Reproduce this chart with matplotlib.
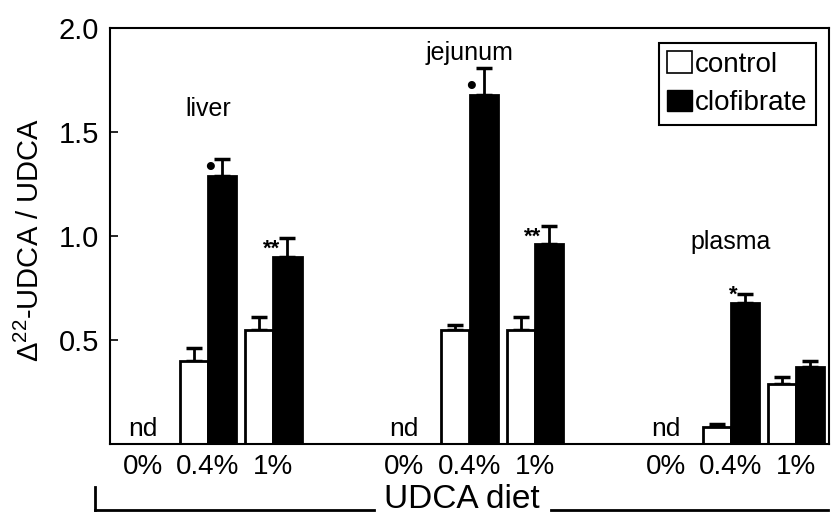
import numpy as np
import matplotlib
matplotlib.use("Agg")
import matplotlib.pyplot as plt
from matplotlib.lines import Line2D
from matplotlib.patches import Patch

plt.rcParams['font.family'] = ['Liberation Sans', 'DejaVu Sans']
plt.rcParams['mathtext.fontset'] = 'custom'
plt.rcParams['mathtext.rm'] = 'Liberation Sans'

# data
tissues = ["liver", "jejunum", "plasma"]
doses = ["0%", "0.4%", "1%"]
control = [0.0, 0.40, 0.55, 0.0, 0.55, 0.55, 0.0, 0.08, 0.29]
control_err = [0.0, 0.06, 0.06, 0.0, 0.02, 0.06, 0.0, 0.015, 0.03]
clofibrate = [0.0, 1.29, 0.90, 0.0, 1.68, 0.96, 0.0, 0.68, 0.37]
clofibrate_err = [0.0, 0.08, 0.09, 0.0, 0.13, 0.09, 0.0, 0.04, 0.03]
marks = ["", "\u2022", "**", "", "\u2022", "**", "", "*", ""]
nd = [True, False, False, True, False, False, True, False, False]
tissue_label_y = [1.61, 1.88, 0.97]

pos = np.array([0, 1, 2, 4, 5, 6, 8, 9, 10], dtype=float)
w = 0.43

fig = plt.figure(figsize=(8.34, 5.25), dpi=100)
ax = fig.add_axes([110 / 834, 81 / 525, 719 / 834, 416 / 525])

drawn = [i for i in range(len(pos)) if not nd[i]]
ax.bar(pos[drawn] - w / 2, np.array(control)[drawn], w, color="white",
       edgecolor="black", linewidth=2, label="control", zorder=2)
ax.bar(pos[drawn] + w / 2, np.array(clofibrate)[drawn], w, color="black",
       edgecolor="black", linewidth=2, label="clofibrate", zorder=2)
ax.errorbar(pos[drawn] - w / 2, np.array(control)[drawn],
            yerr=[np.zeros(len(drawn)), np.array(control_err)[drawn]],
            fmt="none", ecolor="black", elinewidth=2, capsize=6, capthick=2.5, zorder=1)
ax.errorbar(pos[drawn] + w / 2, np.array(clofibrate)[drawn],
            yerr=[np.zeros(len(drawn)), np.array(clofibrate_err)[drawn]],
            fmt="none", ecolor="black", elinewidth=2, capsize=6, capthick=2.5, zorder=1)

for i in range(len(pos)):
    if nd[i]:
        ax.text(pos[i], 0.015, "nd", ha="center", va="bottom", fontsize=19)
    if marks[i]:
        fs = 20 if marks[i] == "\u2022" else 16
        ax.text(pos[i] + 0.1, clofibrate[i] + 0.035, marks[i], ha="right",
                va="center", fontsize=fs, fontweight="bold")

for k, t in enumerate(tissues):
    ax.text(pos[3 * k + 1], tissue_label_y[k], t, ha="center", va="center", fontsize=18)

ax.set_xlim(-0.5, 10.5)
ax.set_ylim(0, 2.0)
ax.set_xticks(pos)
ax.set_xticklabels(doses * 3, fontsize=20)
ax.tick_params(axis="x", length=0, pad=7)
ax.set_yticks([0.5, 1.0, 1.5, 2.0])
ax.set_yticklabels(["0.5", "1.0", "1.5", "2.0"], fontsize=21)
ax.tick_params(axis="y", direction="in", length=6, width=1.2, pad=8)
for s in ax.spines.values():
    s.set_linewidth(1.5)

ax.set_ylabel(r"$\Delta^{22}$-UDCA / UDCA", fontsize=21)
ax.yaxis.set_label_coords(-0.09, 0.49)

leg = ax.legend(handles=[Patch(facecolor="white", edgecolor="black", linewidth=1.2),
                         Patch(facecolor="black", edgecolor="black")],
                labels=["control", "clofibrate"], loc="upper right",
                bbox_to_anchor=(0.982, 0.964), fontsize=20, frameon=True,
                fancybox=False, framealpha=1, handlelength=0.9, handleheight=0.8,
                handletextpad=0.1, borderpad=0.3, labelspacing=0.45,
                borderaxespad=0)
leg.get_frame().set_edgecolor("black")
leg.get_frame().set_linewidth(1.5)

# bracket under the x axis
fig.add_artist(Line2D([95 / 834, 95 / 834], [1 - 487 / 525, 1 - 510 / 525], color="black", lw=2))
fig.add_artist(Line2D([95 / 834, 374 / 834], [1 - 510 / 525, 1 - 510 / 525], color="black", lw=2))
fig.add_artist(Line2D([551 / 834, 828 / 834], [1 - 510 / 525, 1 - 510 / 525], color="black", lw=2))
fig.text(462 / 834, 1 - 500 / 525, "UDCA diet", ha="center", va="center", fontsize=24)

fig.savefig("out.png", dpi=100)
